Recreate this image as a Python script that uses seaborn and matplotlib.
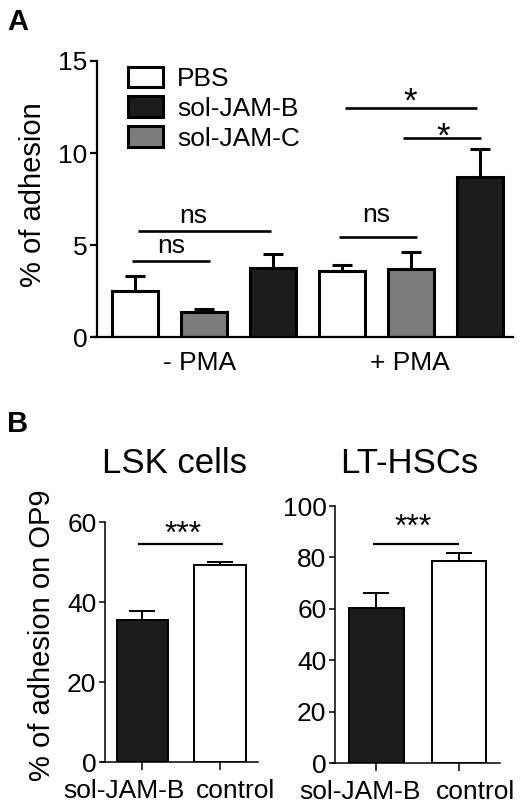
import numpy as np
import pandas as pd
import matplotlib
matplotlib.use("Agg")
import matplotlib.pyplot as plt
import matplotlib.transforms as mtransforms
from matplotlib.patches import Patch
import seaborn as sns

# ----------------------------------------
# Datos panel A: adhesion (%), barras en orden PBS, sol-JAM-C, sol-JAM-B
groups_a = ["- PMA", "+ PMA"]
treatments_a = ["PBS", "sol-JAM-C", "sol-JAM-B"]
means_a = [2.5, 1.38, 3.77, 3.6, 3.7, 8.7]
err_a = [0.83, 0.13, 0.76, 0.33, 0.93, 1.5]
legend_order_a = ["PBS", "sol-JAM-B", "sol-JAM-C"]

# Datos panel B
groups_b = ["sol-JAM-B", "control"]
means_lsk = [35.5, 49.2]
err_lsk = [2.2, 0.8]
means_lt = [60.3, 78.6]
err_lt = [5.8, 3.1]

colors = {"PBS": "white", "sol-JAM-B": "#1c1c1c", "sol-JAM-C": "#7c7c7c",
          "control": "white"}

sns.set_theme(style="ticks", rc={"text.color": "black",
                                 "axes.edgecolor": "black",
                                 "axes.labelcolor": "black",
                                 "xtick.color": "black",
                                 "ytick.color": "black"})
plt.rcParams["font.family"] = ["Liberation Sans", "DejaVu Sans"]

W, H = 520, 805
FS = 19
fig = plt.figure(figsize=(W / 100, H / 100), dpi=100)


def px_axes(x0, y0, x1, y1):
    # rectangulo en pixeles (arriba-izquierda) -> fracciones de figura
    return fig.add_axes([x0 / W, 1 - y1 / H, (x1 - x0) / W, (y1 - y0) / H])


def sig_line(ax, x0, x1, y, text, tx, ty, lw, fs):
    ax.plot([x0, x1], [y, y], color="black", lw=lw, solid_capstyle="butt",
            clip_on=False)
    ax.text(tx, ty, text, ha="center", va="center", fontsize=fs,
            color="black")


# ----------------------------------------
# Panel A
ax_a = px_axes(93, 61, 513, 337)
cats_a = [f"{t} {g}" for g in groups_a for t in treatments_a]
df_a = pd.DataFrame({"cat": cats_a, "mean": means_a,
                     "trat": treatments_a * len(groups_a)})
sns.barplot(data=df_a, x="cat", y="mean", hue="trat", order=cats_a,
            palette=colors, dodge=False, width=0.67, edgecolor="black",
            linewidth=2.2, legend=False, ax=ax_a)
ax_a.errorbar(range(len(means_a)), means_a,
              yerr=[np.zeros(len(err_a)), err_a], fmt="none",
              ecolor="black", elinewidth=2.2, capsize=7.5, capthick=2.2)
ax_a.set_xlim(-0.609, 5.478)
ax_a.set_ylim(0, 15)
ax_a.set_yticks([0, 5, 10, 15])
ax_a.set_xticks([0.94, 3.99])
ax_a.set_xticklabels(groups_a)
ax_a.set_xlabel("")
ax_a.set_ylabel("")
ax_a.tick_params(axis="x", length=0, pad=10, labelsize=FS)
ax_a.tick_params(axis="y", length=5, width=1.6, pad=2, labelsize=FS)
sns.despine(ax=ax_a)
for s in ["left", "bottom"]:
    ax_a.spines[s].set_linewidth(1.6)
ax_a.spines["left"].set_position(("outward", -3))

sig_line(ax_a, -0.04, 1.09, 4.13, "ns", 0.53, 4.95, 1.9, FS)
sig_line(ax_a, 0.04, 1.97, 5.76, "ns", 0.84, 6.6, 1.9, FS)
sig_line(ax_a, 2.96, 4.09, 5.43, "ns", 3.49, 6.65, 1.9, FS)
sig_line(ax_a, 3.04, 4.96, 12.45, "*", 3.99, 12.75, 1.9, 25)
sig_line(ax_a, 3.88, 5.01, 10.8, "*", 4.46, 10.85, 1.9, 25)

handles = [Patch(facecolor=colors[t], edgecolor="black", linewidth=2.2)
           for t in legend_order_a]
ax_a.legend(handles, legend_order_a, loc="upper left",
            bbox_to_anchor=((125 - 93) / 420, 1 - (64 - 61) / 276),
            frameon=False, fontsize=FS, handlelength=1.33, handleheight=0.83,
            handletextpad=0.55, labelspacing=0.2, borderpad=0.1,
            borderaxespad=0)

fig.text(33 / W, 1 - 195 / H, "% of adhesion", rotation=90, ha="center",
         va="center", fontsize=21)
fig.text(7 / W, 1 - 30 / H, "A", fontsize=21, fontweight="bold")

# ----------------------------------------
# Panel B
def panel_b(ax, means, errs, ylim, yticks, xlim, shifts):
    df = pd.DataFrame({"grupo": groups_b, "mean": means})
    sns.barplot(data=df, x="grupo", y="mean", hue="grupo", order=groups_b,
                palette=colors, width=0.66, edgecolor="black", linewidth=1.4,
                legend=False, ax=ax)
    ax.errorbar(range(len(means)), means, yerr=[np.zeros(len(errs)), errs],
                fmt="none", ecolor="black", elinewidth=1.4, capsize=9.5,
                capthick=1.4)
    ax.set_xlim(*xlim)
    ax.set_ylim(*ylim)
    ax.set_yticks(yticks)
    ax.set_xlabel("")
    ax.set_ylabel("")
    ax.tick_params(axis="x", length=5.5, width=1.1, pad=7, labelsize=FS)
    ax.tick_params(axis="y", length=4, width=1.1, pad=2, labelsize=FS)
    sns.despine(ax=ax)
    for s in ["left", "bottom"]:
        ax.spines[s].set_linewidth(1.1)
    ax.spines["left"].set_position(("outward", -2))
    for lab, dx in zip(ax.get_xticklabels(), shifts):
        lab.set_transform(lab.get_transform() + mtransforms.ScaledTranslation(
            dx / 100, 0, fig.dpi_scale_trans))


ax_b1 = px_axes(102, 522, 258, 762)
panel_b(ax_b1, means_lsk, err_lsk, (0, 60), [0, 20, 40, 60],
        (-0.52, 1.49), [-18, 16])
sig_line(ax_b1, -0.06, 1.04, 54.5, "***", 0.53, 56.8, 1.6, 23)

ax_b2 = px_axes(332, 506, 500, 763)
panel_b(ax_b2, means_lt, err_lt, (0, 100), [0, 20, 40, 60, 80, 100],
        (-0.54, 1.5), [-16, 17])
sig_line(ax_b2, -0.04, 1.0, 85.2, "***", 0.44, 91.5, 1.6, 23)

fig.text(174 / W, 1 - 473 / H, "LSK cells", ha="center", va="baseline",
         fontsize=25)
fig.text(409 / W, 1 - 473 / H, "LT-HSCs", ha="center", va="baseline",
         fontsize=25)
fig.text(42 / W, 1 - 635 / H, "% of adhesion on OP9", rotation=90,
         ha="center", va="center", fontsize=21)
fig.text(7 / W, 1 - 432 / H, "B", fontsize=21, fontweight="bold")

fig.savefig("out.png", dpi=100, facecolor="white")
